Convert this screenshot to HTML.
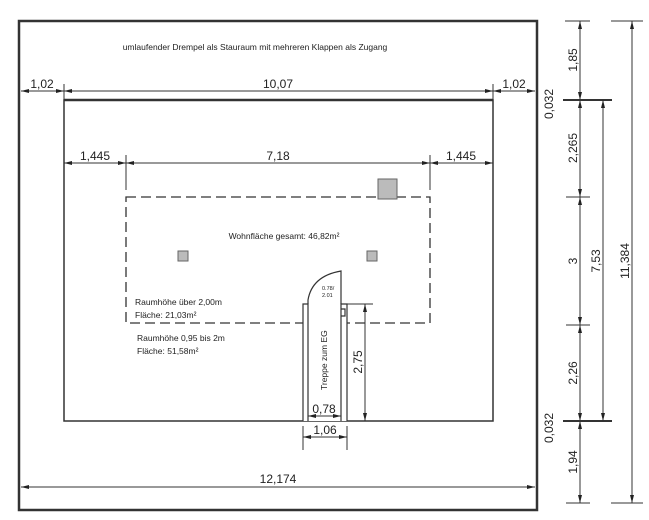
<!DOCTYPE html>
<html><head><meta charset="utf-8"><style>
html,body{margin:0;padding:0;background:#fff;}
svg{display:block;}
text{font-family:"Liberation Sans Narrow","Liberation Sans",sans-serif;fill:#222;}
.d{font-size:12px;}
.s{font-family:"Liberation Sans",sans-serif;font-size:8.5px;}
</style></head><body>
<svg width="649" height="520" viewBox="0 0 649 520" xmlns="http://www.w3.org/2000/svg">
<defs>
<marker id="a" markerWidth="8" markerHeight="6" refX="8" refY="3" orient="auto" markerUnits="userSpaceOnUse"><path d="M0,1 L8,3 L0,5 z" fill="#222"/></marker>
<marker id="b" markerWidth="8" markerHeight="6" refX="0" refY="3" orient="auto" markerUnits="userSpaceOnUse"><path d="M8,1 L0,3 L8,5 z" fill="#222"/></marker>
</defs>
<g stroke="#333" fill="none">
<rect x="19" y="21" width="518" height="489" stroke-width="2.5"/>
<rect x="64" y="100" width="429" height="321" stroke-width="1.5"/>
<line x1="64" y1="100" x2="493" y2="100" stroke-width="2.5"/>
<rect x="126" y="197" width="304" height="126" stroke-width="1.3" stroke-dasharray="10,5"/>
</g>
<g fill="#bbb" stroke="#666">
<rect x="378" y="179" width="19" height="20"/>
<rect x="178" y="251" width="10" height="10"/>
<rect x="367" y="251" width="10" height="10"/>
</g>
<!-- stair -->
<rect x="303" y="304" width="44" height="117" fill="#fff" stroke="none"/>
<g stroke="#333" fill="none" stroke-width="1.2">
<path d="M303,421 V304 H308 V421"/>
<path d="M347,421 V304 H341 V421"/>
<path d="M308,304 V300 Q312,276 341,271 V304"/>
<path d="M341,309 H345 V316 H341"/>
</g>
<text class="s" x="322" y="290" style="font-size:5.5px">0.78/</text>
<text class="s" x="322" y="297" style="font-size:5.5px">2.01</text>
<text class="s" x="0" y="0" transform="translate(327,390) rotate(-90)" style="font-size:8.5px">Treppe zum EG</text>
<!-- dims -->
<g stroke="#333" stroke-width="1">
<line x1="21" y1="91" x2="64" y2="91" marker-start="url(#b)" marker-end="url(#a)"/>
<line x1="64" y1="91" x2="493" y2="91" marker-start="url(#b)" marker-end="url(#a)"/>
<line x1="493" y1="91" x2="535" y2="91" marker-start="url(#b)" marker-end="url(#a)"/>
<line x1="64" y1="84" x2="64" y2="100"/><line x1="493" y1="84" x2="493" y2="100"/>
<line x1="64" y1="163" x2="126" y2="163" marker-start="url(#b)" marker-end="url(#a)"/>
<line x1="126" y1="163" x2="430" y2="163" marker-start="url(#b)" marker-end="url(#a)"/>
<line x1="430" y1="163" x2="493" y2="163" marker-start="url(#b)" marker-end="url(#a)"/>
<line x1="126" y1="155" x2="126" y2="190"/><line x1="430" y1="155" x2="430" y2="190"/>
<line x1="21" y1="487" x2="535" y2="487" marker-start="url(#b)" marker-end="url(#a)"/>
<line x1="303" y1="437" x2="347" y2="437" marker-start="url(#b)" marker-end="url(#a)"/>
<line x1="303" y1="426" x2="303" y2="450"/><line x1="347" y1="426" x2="347" y2="450"/>
<line x1="308" y1="416" x2="341" y2="416" marker-start="url(#b)" marker-end="url(#a)"/>
<line x1="347" y1="304" x2="373" y2="304"/>
<line x1="365" y1="304" x2="365" y2="421" marker-start="url(#b)" marker-end="url(#a)"/>
<!-- right -->
<line x1="580" y1="21" x2="580" y2="100" marker-start="url(#b)" marker-end="url(#a)"/>
<line x1="580" y1="100" x2="580" y2="197" marker-start="url(#b)" marker-end="url(#a)"/>
<line x1="580" y1="197" x2="580" y2="325" marker-start="url(#b)" marker-end="url(#a)"/>
<line x1="580" y1="325" x2="580" y2="421" marker-start="url(#b)" marker-end="url(#a)"/>
<line x1="580" y1="421" x2="580" y2="503" marker-start="url(#b)" marker-end="url(#a)"/>
<line x1="565" y1="21" x2="590" y2="21"/>
<line x1="563" y1="100" x2="612" y2="100" stroke-width="2"/>
<line x1="566" y1="197" x2="590" y2="197"/>
<line x1="566" y1="325" x2="590" y2="325"/>
<line x1="563" y1="421" x2="612" y2="421" stroke-width="2"/>
<line x1="566" y1="503" x2="590" y2="503"/>
<line x1="603" y1="100" x2="603" y2="421" marker-start="url(#b)" marker-end="url(#a)"/>
<line x1="632" y1="21" x2="632" y2="503" marker-start="url(#b)" marker-end="url(#a)"/>
<line x1="611" y1="21" x2="643" y2="21"/><line x1="611" y1="503" x2="643" y2="503"/>
</g>
<text class="s" x="255" y="50" text-anchor="middle">umlaufender Drempel als Stauraum mit mehreren Klappen als Zugang</text>
<text class="s" x="284" y="239" text-anchor="middle">Wohnfläche gesamt: 46,82m²</text>
<text class="s" x="135" y="305">Raumhöhe über 2,00m</text>
<text class="s" x="135" y="318">Fläche: 21,03m²</text>
<text class="s" x="137" y="341">Raumhöhe 0,95 bis 2m</text>
<text class="s" x="137" y="354">Fläche: 51,58m²</text>
<g class="d">
<text class="d" x="42" y="88" text-anchor="middle">1,02</text>
<text class="d" x="278" y="88" text-anchor="middle">10,07</text>
<text class="d" x="514" y="88" text-anchor="middle">1,02</text>
<text class="d" x="95" y="160" text-anchor="middle">1,445</text>
<text class="d" x="278" y="160" text-anchor="middle">7,18</text>
<text class="d" x="461" y="160" text-anchor="middle">1,445</text>
<text class="d" x="324" y="413" text-anchor="middle">0,78</text>
<text class="d" x="325" y="434" text-anchor="middle">1,06</text>
<text class="d" x="278" y="483" text-anchor="middle">12,174</text>
<text class="d" transform="translate(362,362) rotate(-90)" text-anchor="middle">2,75</text>
<text class="d" transform="translate(577,60) rotate(-90)" text-anchor="middle">1,85</text>
<text class="d" transform="translate(577,148) rotate(-90)" text-anchor="middle">2,265</text>
<text class="d" transform="translate(577,261) rotate(-90)" text-anchor="middle">3</text>
<text class="d" transform="translate(577,373) rotate(-90)" text-anchor="middle">2,26</text>
<text class="d" transform="translate(577,462) rotate(-90)" text-anchor="middle">1,94</text>
<text class="d" transform="translate(600,261) rotate(-90)" text-anchor="middle">7,53</text>
<text class="d" transform="translate(629,261) rotate(-90)" text-anchor="middle">11,384</text>
<text class="d" transform="translate(553,104) rotate(-90)" text-anchor="middle">0,032</text>
<text class="d" transform="translate(553,428) rotate(-90)" text-anchor="middle">0,032</text>
</g>
</svg>
</body></html>
